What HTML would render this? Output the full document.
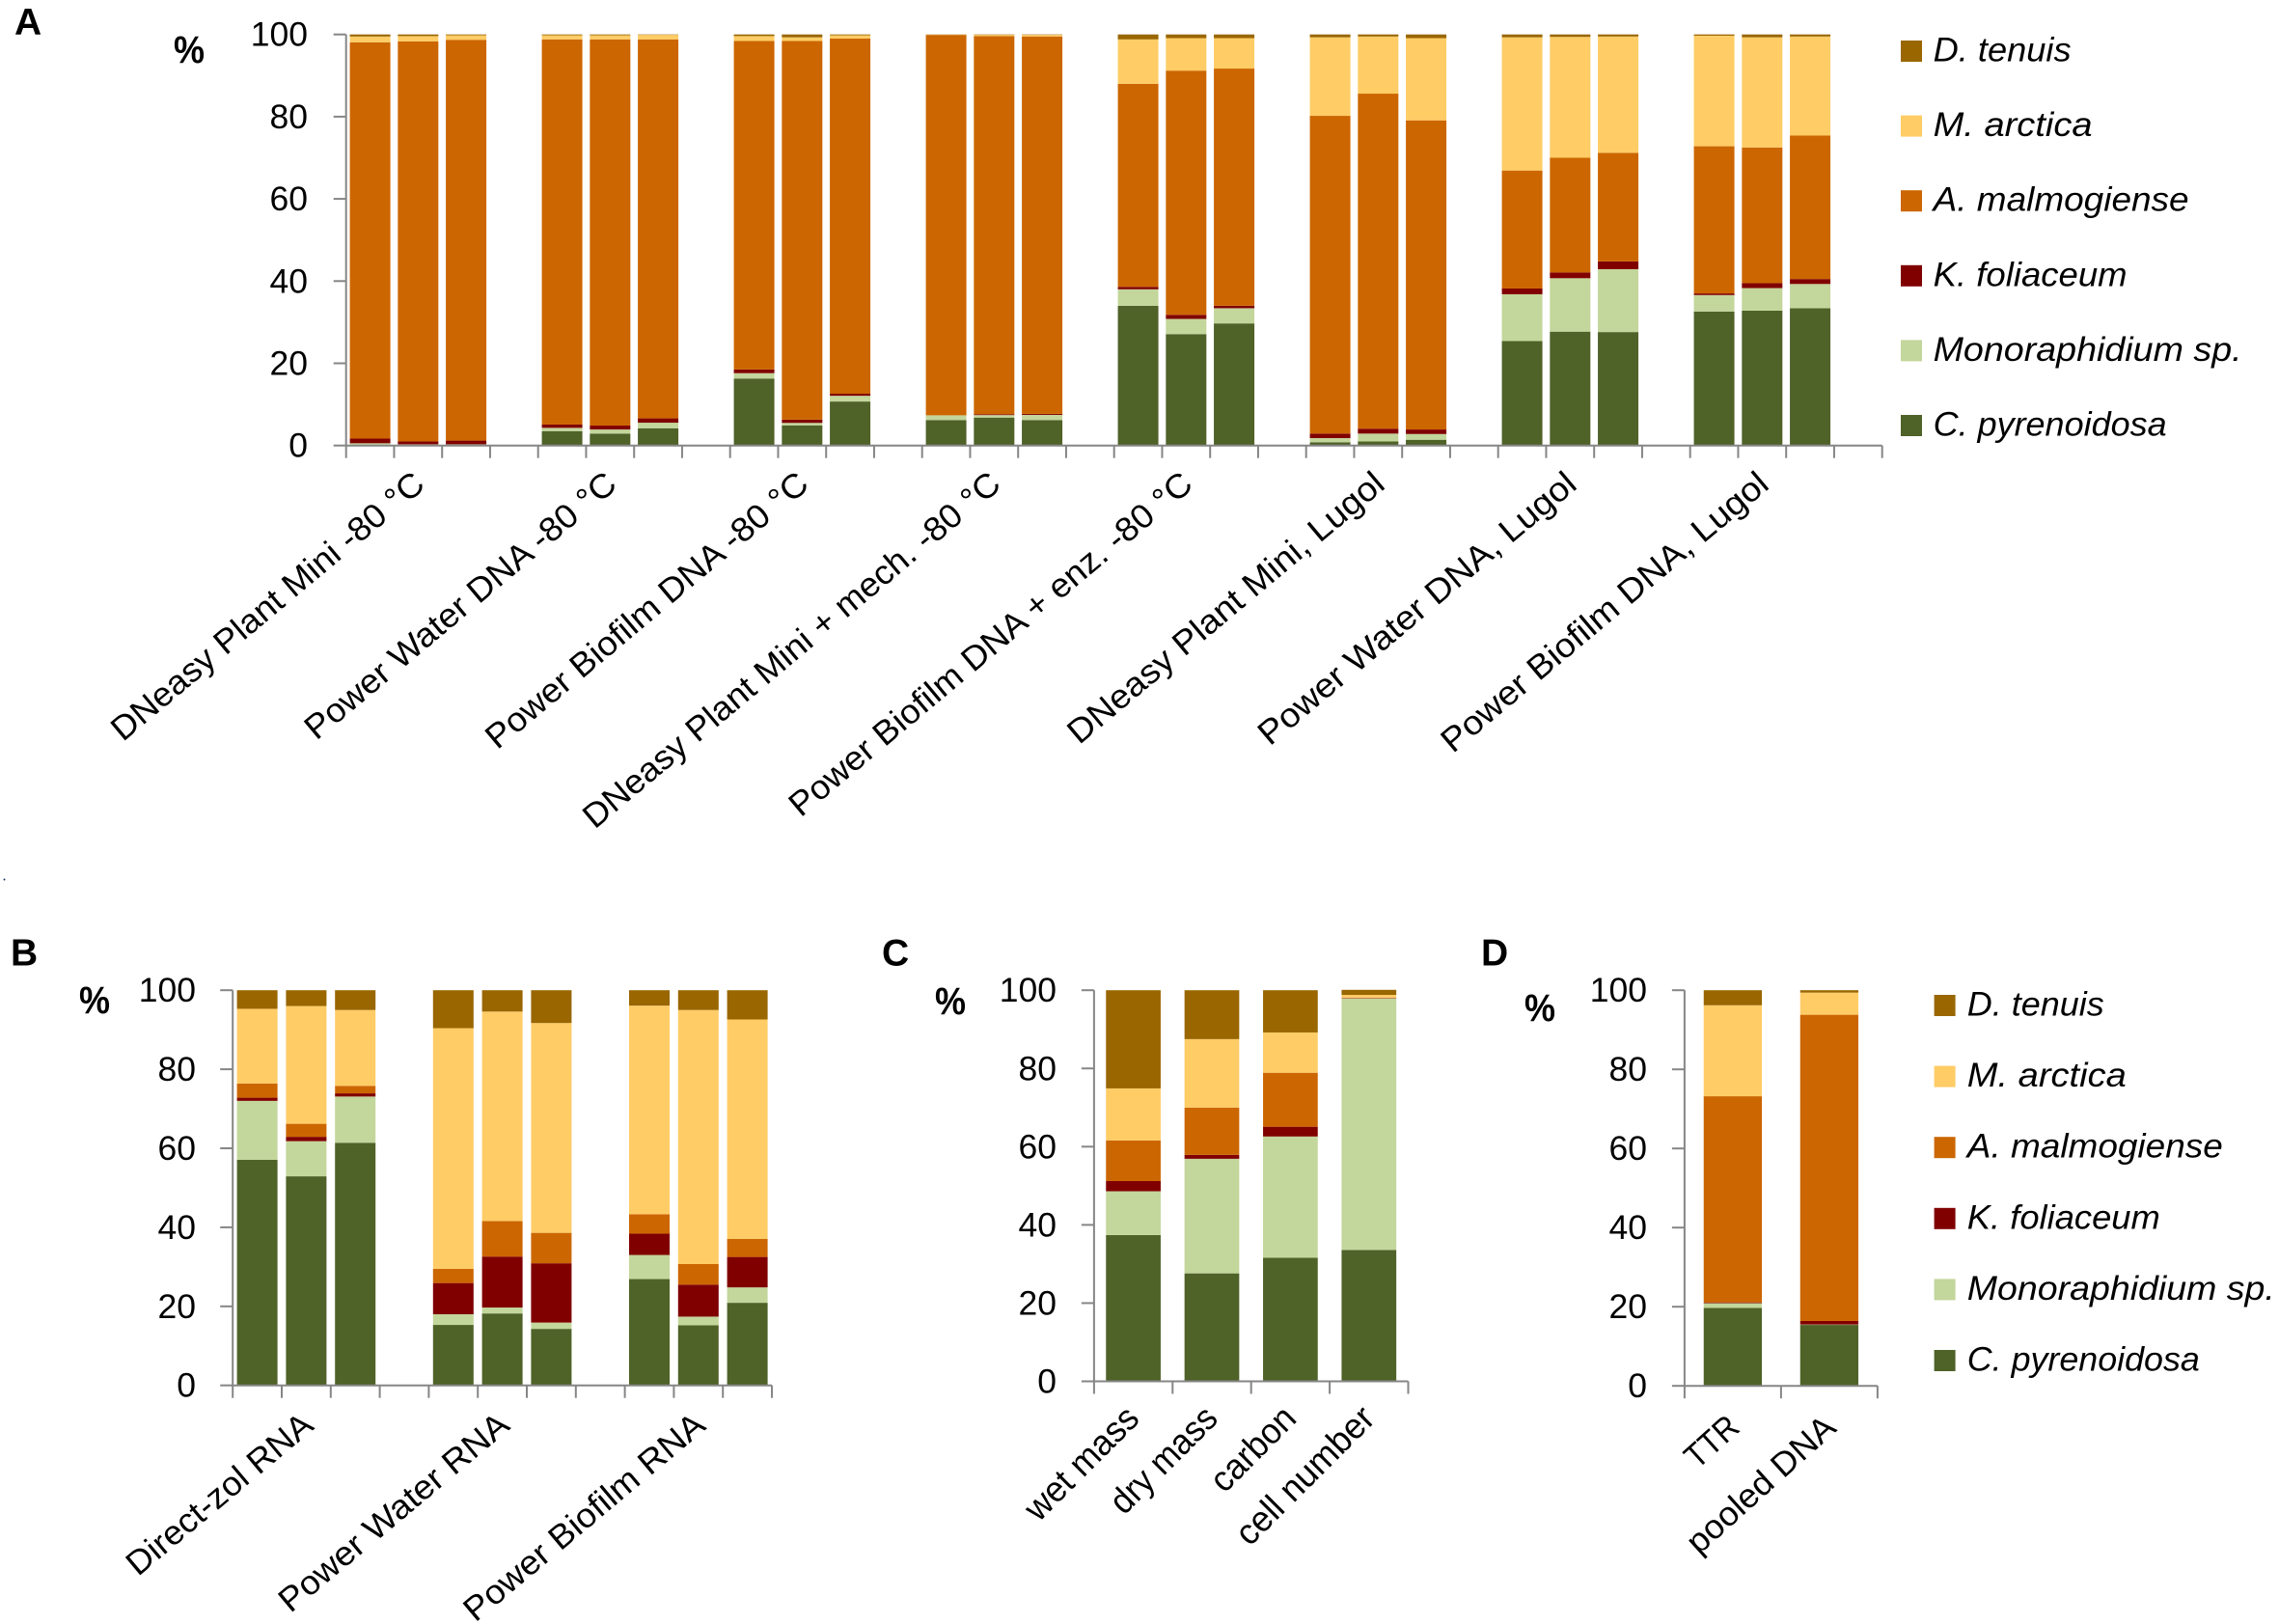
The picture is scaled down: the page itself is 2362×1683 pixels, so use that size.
<!DOCTYPE html>
<html lang="en">
<head>
<meta charset="utf-8">
<title>Relative species composition charts</title>
<style>
  html, body { margin: 0; padding: 0; background: #ffffff; }
  svg { display: block; font-family: "Liberation Sans", sans-serif; }
</style>
</head>
<body>
<svg id="figure" xmlns="http://www.w3.org/2000/svg" width="2362" height="1683" viewBox="0 0 2362 1683"></svg>
<script>
// ---------- shared ----------
const yTickValues = [0, 20, 40, 60, 80, 100];
const yTickLabels = ["0", "20", "40", "60", "80", "100"];
const speciesNames = ["C. pyrenoidosa", "Monoraphidium sp.", "K. foliaceum", "A. malmogiense", "M. arctica", "D. tenuis"];
const speciesColors = ["#4f6228", "#c3d69b", "#800000", "#cc6600", "#ffcc66", "#996600"];

// ---------- panel A ----------
const aCategories = ["DNeasy Plant Mini -80 °C", "Power Water DNA -80 °C", "Power Biofilm DNA -80 °C", "DNeasy Plant Mini + mech. -80 °C", "Power Biofilm DNA + enz. -80 °C", "DNeasy Plant Mini, Lugol", "Power Water DNA, Lugol", "Power Biofilm DNA, Lugol"];
const aPyrenoidosa = [0.2,0.1,0.1, 3.5,2.9,4.2, 16.3,4.9,10.7, 6.2,6.8,6.2, 34,27.1,29.7, 0.8,1,1.4, 25.4,27.7,27.6, 32.6,32.8,33.4];
const aMonoraphidium = [0.35,0.2,0.2, 0.8,1,1.35, 1.3,0.6,1.4, 1.15,0.6,1.25, 4,3.7,3.7, 1,1.9,1.4, 11.4,13,15.3, 4,5.5,5.9];
const aFoliaceum = [1.15,0.7,0.9, 0.8,0.95,1.05, 0.9,0.8,0.5, 0,0.2,0.25, 0.6,1,0.6, 1.1,1.2,1.1, 1.4,1.4,1.9, 0.4,1.2,1.2];
const aMalmogiense = [96.4,97.3,97.5, 93.7,93.95,92.2, 79.9,92.1,86.4, 92.55,92,91.8, 49.4,59.4,57.7, 77.3,81.5,75.2, 28.7,27.9,26.4, 35.8,33,34.9];
const aArctica = [1.4,1.3,1.1, 1,1,1.1, 1.2,0.9,0.8, 0.05,0.3,0.4, 10.8,7.9,7.4, 19.1,13.9,20, 32.4,29.4,28.3, 26.9,26.8,24.1];
const aTenuis = [0.5,0.4,0.2, 0.2,0.2,0.1, 0.4,0.7,0.2, 0.05,0.1,0.1, 1.2,0.9,0.9, 0.7,0.5,0.9, 0.7,0.6,0.5, 0.3,0.7,0.5];

// ---------- panel B ----------
const bCategories = ["Direct-zol RNA", "Power Water RNA", "Power Biofilm RNA"];
const bPyrenoidosa = [57.1,52.9,61.4, 15.3,18.2,14.3, 26.9,15.2,20.9];
const bMonoraphidium = [14.9,8.9,11.7, 2.7,1.5,1.6, 6.1,2.2,3.9];
const bFoliaceum = [0.8,1.1,0.8, 7.9,12.9,15, 5.4,8.1,7.7];
const bMalmogiense = [3.6,3.3,1.9, 3.6,9,7.7, 4.9,5.2,4.6];
const bArctica = [18.9,29.8,19.2, 60.9,53,53.1, 52.8,64.3,55.5];
const bTenuis = [4.7,4,5, 9.6,5.4,8.3, 3.9,5,7.4];

// ---------- panel C ----------
const cCategories = ["wet mass", "dry mass", "carbon", "cell number"];
const cPyrenoidosa = [37.4,27.6,31.6,33.6];
const cMonoraphidium = [11.2,29.3,31,64.3];
const cFoliaceum = [2.6,1,2.5,0.1];
const cMalmogiense = [10.4,12.1,13.8,0.1];
const cArctica = [13.3,17.5,10.3,0.7];
const cTenuis = [25.1,12.5,10.8,1.3];

// ---------- panel D ----------
const dCategories = ["TTR", "pooled DNA"];
const dPyrenoidosa = [19.7,15.4];
const dMonoraphidium = [1.2,0.1];
const dFoliaceum = [0.2,0.9];
const dMalmogiense = [52.1,77.4];
const dArctica = [23,5.6];
const dTenuis = [3.8,0.6];

const svg = document.getElementById('figure');
const NS = 'http://www.w3.org/2000/svg';
const AXIS = '#868686';

function make(tag, parent, attrs) {
  const el = document.createElementNS(NS, tag);
  for (const k in attrs) el.setAttribute(k, attrs[k]);
  parent.appendChild(el);
  return el;
}
function makeText(parent, str, attrs) {
  const el = make('text', parent, attrs);
  el.textContent = str;
  return el;
}

function drawPanel(p) {
  const g = make('g', svg, {});
  
  

  const yScale = v => p.yBottom - (v / 100) * (p.yBottom - p.yTop);
  const xEdge = s => p.x0 + s * p.slot;
  const barSlot = i => {
    const group = Math.floor(i / p.barsPerGroup);
    return group * p.slotsPerGroup + (i % p.barsPerGroup);
  };

  // panel letter and unit
  const letter = makeText(g, p.letter, { x: p.letterX, y: p.letterY, 'font-size': 39, 'font-weight': 'bold', fill: '#000' });
  
  
  const unit = makeText(g, '%', { x: p.pctX, y: p.pctY, 'font-size': 40, 'font-weight': 'bold', fill: '#000', textLength: 32, lengthAdjust: 'spacingAndGlyphs' });
  
  

  // stacked bars
  const barCount = p.series[0].length;
  for (let i = 0; i < barCount; i++) {
    const barGroup = make('g', g, {});
    
    
    const left = xEdge(barSlot(i)) + (p.slot - p.barWidth) / 2;
    let cum = 0;
    p.series.forEach((vals, s) => {
      const yHigh = yScale(cum + vals[i]);
      const yLow = yScale(cum);
      cum += vals[i];
      const seg = make('rect', barGroup, { x: left, y: yHigh, width: p.barWidth, height: Math.max(0, yLow - yHigh), fill: speciesColors[s] });
      
      
    });
  }

  // axes
  const right = xEdge(p.slotCount);
  const axisStyle = { stroke: AXIS, 'stroke-width': 2, fill: 'none' };
  const yAxis = make('line', g, Object.assign({ x1: p.x0, x2: p.x0, y1: p.yTop, y2: p.yBottom }, axisStyle));
  
  
  const xAxis = make('line', g, Object.assign({ x1: p.x0, x2: right, y1: p.yBottom, y2: p.yBottom }, axisStyle));
  
  

  yTickValues.forEach((v, i) => {
    const tick = make('line', g, Object.assign({ x1: p.x0 - 13, x2: p.x0, y1: yScale(v), y2: yScale(v) }, axisStyle));
    
    
    const label = makeText(g, yTickLabels[i], { x: p.yLabelX, y: yScale(v) + 12, 'font-size': 35.5, 'text-anchor': 'end', fill: '#000' });
    
    
  });
  for (let s = 0; s <= p.slotCount; s++) {
    const tick = make('line', g, Object.assign({ x1: xEdge(s), x2: xEdge(s), y1: p.yBottom, y2: p.yBottom + 13 }, axisStyle));
    
    
  }

  // rotated category labels
  p.categories.forEach((name, i) => {
    const center = xEdge(i * p.slotsPerGroup + p.slotsPerGroup / 2);
    const px = center + p.labelOffsetX;
    const label = makeText(g, name, {
      x: px, y: p.labelY, 'font-size': p.labelSize, fill: '#000', 'text-anchor': 'end',
      transform: 'rotate(' + (-p.labelAngle) + ' ' + px + ' ' + p.labelY + ')',
      textLength: p.labelLengths[i], lengthAdjust: 'spacingAndGlyphs'
    });
    
    
  });
}

function drawLegend(l) {
  const g = make('g', svg, {});
  
  
  for (let r = 0; r < 6; r++) {
    const s = 5 - r; // legend reads top-down, last species first
    const y = l.y + r * l.step;
    const swatch = make('rect', g, { x: l.x, y: y, width: 22, height: 22, fill: speciesColors[s] });
    
    
    const label = makeText(g, speciesNames[s], {
      x: l.textX, y: y + 21.5, 'font-size': 35, 'font-style': 'italic', fill: '#000',
      textLength: l.widths[s], lengthAdjust: 'spacingAndGlyphs'
    });
    
    
  }
}

drawPanel({
  letter: 'A', letterX: 15, letterY: 36, pctX: 180, pctY: 65,
  x0: 358.7, slot: 49.75, slotCount: 32, slotsPerGroup: 4, barsPerGroup: 3, barWidth: 42,
  yTop: 35.7, yBottom: 461.7, yLabelX: 319,
  categories: aCategories, labelOffsetX: -16, labelY: 505, labelAngle: 40, labelSize: 35,
  labelLengths: [411, 409, 424, 552, 533, 416, 418, 430],
  series: [aPyrenoidosa, aMonoraphidium, aFoliaceum, aMalmogiense, aArctica, aTenuis]
});
drawPanel({
  letter: 'B', letterX: 11, letterY: 1000.5, pctX: 82, pctY: 1050,
  x0: 241.2, slot: 50.8, slotCount: 11, slotsPerGroup: 4, barsPerGroup: 3, barWidth: 42,
  yTop: 1026.2, yBottom: 1435.7, yLabelX: 203,
  categories: bCategories, labelOffsetX: -16, labelY: 1480, labelAngle: 40, labelSize: 35,
  labelLengths: [240, 299, 314],
  series: [bPyrenoidosa, bMonoraphidium, bFoliaceum, bMalmogiense, bArctica, bTenuis]
});
drawPanel({
  letter: 'C', letterX: 914, letterY: 1000.5, pctX: 969, pctY: 1051,
  x0: 1133.9, slot: 81.4, slotCount: 4, slotsPerGroup: 1, barsPerGroup: 1, barWidth: 56.7,
  yTop: 1026.2, yBottom: 1431.5, yLabelX: 1095,
  categories: cCategories, labelOffsetX: 8, labelY: 1472, labelAngle: 45, labelSize: 37,
  labelLengths: [150, 140, 108, 186],
  series: [cPyrenoidosa, cMonoraphidium, cFoliaceum, cMalmogiense, cArctica, cTenuis]
});
drawPanel({
  letter: 'D', letterX: 1535, letterY: 1000.5, pctX: 1580, pctY: 1058,
  x0: 1745.9, slot: 100, slotCount: 2, slotsPerGroup: 1, barsPerGroup: 1, barWidth: 60.3,
  yTop: 1026.2, yBottom: 1436.2, yLabelX: 1707,
  categories: dCategories, labelOffsetX: 9, labelY: 1482, labelAngle: 42, labelSize: 35,
  labelLengths: [62, 194],
  series: [dPyrenoidosa, dMonoraphidium, dFoliaceum, dMalmogiense, dArctica, dTenuis]
});

drawLegend({ x: 1970, y: 42, step: 77.6, textX: 2003.6, widths: [242, 320, 201, 265, 165, 143] });
drawLegend({ x: 2004.6, y: 1031, step: 73.6, textX: 2038.8, widths: [241, 319, 200, 265, 165, 142] });

const speck = make('circle', svg, { cx: 4.5, cy: 911.5, r: 1, fill: '#1f3864' });


</script>
</body>
</html>
